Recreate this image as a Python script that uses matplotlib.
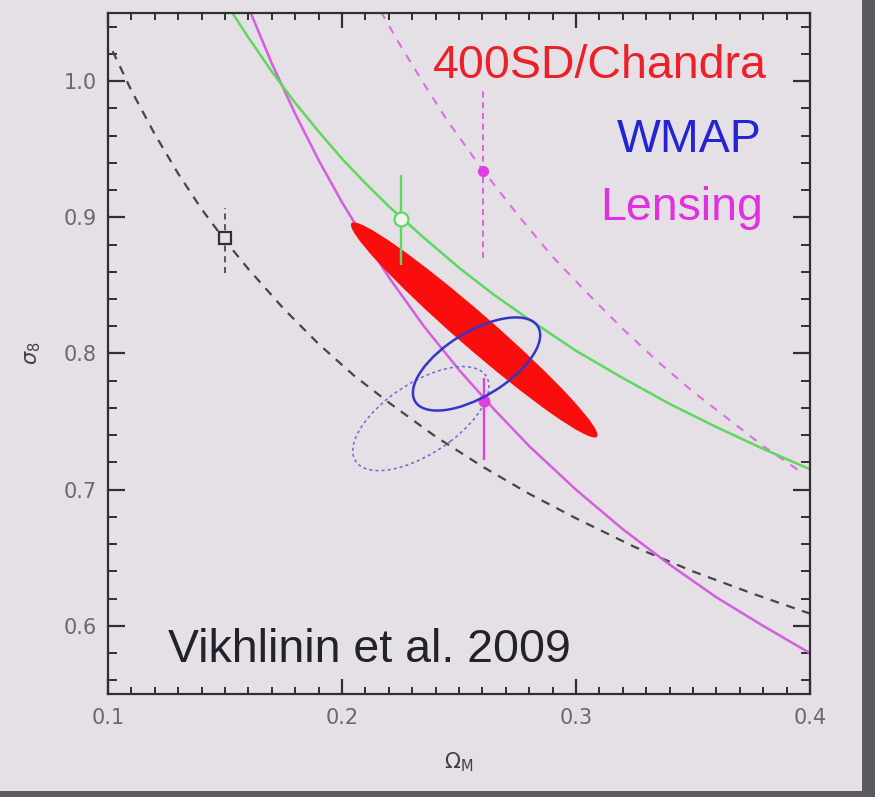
import matplotlib
matplotlib.use('Agg')
import matplotlib.pyplot as plt
import matplotlib.transforms as transforms
from matplotlib.patches import Ellipse, Rectangle
from matplotlib.ticker import MultipleLocator
import numpy as np

# degeneracy curves (Omega_M, sigma_8)
green_om = [0.152, 0.160, 0.170, 0.180, 0.190, 0.200, 0.210, 0.220, 0.235, 0.250,
            0.265, 0.280, 0.300, 0.320, 0.340, 0.360, 0.380, 0.400]
green_s8 = [1.053, 1.032, 1.007, 0.984, 0.963, 0.943, 0.925, 0.908, 0.885, 0.863,
            0.843, 0.825, 0.802, 0.782, 0.763, 0.746, 0.730, 0.715]

lens_om = [0.161, 0.170, 0.180, 0.190, 0.200, 0.210, 0.220, 0.235, 0.250, 0.265,
           0.280, 0.300, 0.320, 0.340, 0.360, 0.380, 0.400]
lens_s8 = [1.050, 1.013, 0.976, 0.942, 0.911, 0.883, 0.856, 0.820, 0.788, 0.759,
           0.732, 0.700, 0.671, 0.645, 0.621, 0.600, 0.580]

lens_hi_om = [0.2166, 0.225, 0.235, 0.245, 0.260, 0.275, 0.290, 0.305, 0.320, 0.335,
              0.350, 0.365, 0.380, 0.397]
lens_hi_s8 = [1.051, 1.026, 0.998, 0.971, 0.935, 0.902, 0.871, 0.844, 0.818, 0.794,
              0.772, 0.752, 0.732, 0.712]

black_om = [0.102, 0.110, 0.120, 0.130, 0.140, 0.150, 0.160, 0.175, 0.190, 0.205,
            0.220, 0.240, 0.260, 0.280, 0.300, 0.325, 0.350, 0.375, 0.400]
black_s8 = [1.022, 0.993, 0.961, 0.932, 0.906, 0.883, 0.862, 0.833, 0.807, 0.784,
            0.764, 0.739, 0.717, 0.697, 0.679, 0.658, 0.640, 0.624, 0.609]

# single measurements with error bars: x, y, lower err, upper err
square_pt = (0.150, 0.885, 0.026, 0.022)
green_pt = (0.2252, 0.899, 0.034, 0.032)
lens_hi_pt = (0.2603, 0.934, 0.064, 0.059)
lens_pt = (0.2607, 0.765, 0.043, 0.017)

# confidence contours: centre, half extents, correlation
chandra_center = (0.2565, 0.8173)
chandra_extent = (0.0527, 0.0790)
chandra_rho = -0.977

wmap_center = (0.2575, 0.7923)
wmap_extent = (0.0272, 0.0342)
wmap_rho = 0.62

wmap_old_center = (0.2337, 0.7522)
wmap_old_extent = (0.0291, 0.0382)
wmap_old_rho = 0.62

x_ticks = [0.1, 0.2, 0.3, 0.4]
y_ticks = [0.6, 0.7, 0.8, 0.9, 1.0]

bg = '#e5e0e5'


def add_contour(ax, center, extent, rho, **kw):
    ell = Ellipse((0, 0), width=2 * np.sqrt(1 + rho), height=2 * np.sqrt(1 - rho), **kw)
    tr = transforms.Affine2D().rotate_deg(45).scale(extent[0], extent[1]).translate(center[0], center[1])
    ell.set_transform(tr + ax.transData)
    ax.add_patch(ell)
    return ell


def add_point(ax, pt, color, marker, ms, dashed=False, mfc=None):
    x, y, lo, hi = pt
    line, caps, bars = ax.errorbar([x], [y], yerr=[[lo], [hi]], fmt=marker, color=color,
                                   ms=ms, mfc=mfc if mfc else color, mec=color, mew=1.6,
                                   elinewidth=1.7 if not dashed else 1.1, capsize=0, zorder=5)
    if dashed:
        bars[0].set_linestyle((0, (4, 3)))


fig = plt.figure(figsize=(8.75, 7.97), dpi=100, facecolor=bg)
ax = fig.add_axes([108 / 875, 103 / 797, 702 / 875, 681 / 797])
ax.set_facecolor(bg)

ax.plot(black_om, black_s8, color='#454545', lw=1.6, ls=(0, (4, 3.5)), zorder=2)
ax.plot(lens_om, lens_s8, color='#d45ee0', lw=1.8, zorder=2)
ax.plot(lens_hi_om, lens_hi_s8, color='#dc6ee0', lw=1.5, ls=(0, (4, 4)), zorder=2)
ax.plot(green_om, green_s8, color='#5fd85f', lw=1.8, zorder=2)

add_contour(ax, chandra_center, chandra_extent, chandra_rho, facecolor='#fa0d0d',
            edgecolor='none', zorder=4)
add_contour(ax, wmap_center, wmap_extent, wmap_rho, facecolor='none',
            edgecolor='#3535c8', lw=1.8, zorder=6)
add_contour(ax, wmap_old_center, wmap_old_extent, wmap_old_rho, facecolor='none',
            edgecolor='#6a6ad6', lw=1.1, ls=(0, (2, 2)), zorder=3)

add_point(ax, square_pt, '#303030', 's', 8, dashed=True, mfc=bg)
add_point(ax, green_pt, '#5fd85f', 'o', 10, mfc='#f2f2f2')
add_point(ax, lens_hi_pt, '#e040e0', 'o', 6.5, dashed=True)
add_point(ax, lens_pt, '#e040e0', 'o', 7)

ax.set_xlim(0.1, 0.4)
ax.set_ylim(0.55, 1.05)
ax.set_xticks(x_ticks)
ax.set_yticks(y_ticks)
ax.set_xticklabels(['%.1f' % v for v in x_ticks])
ax.set_yticklabels(['%.1f' % v for v in y_ticks])
ax.xaxis.set_minor_locator(MultipleLocator(0.01))
ax.yaxis.set_minor_locator(MultipleLocator(0.02))
ax.tick_params(which='both', direction='in', top=True, right=True, color='#303030',
               labelcolor='#6a6a6a', labelsize=15)
ax.tick_params(axis='x', which='major', length=11, width=1.6, pad=10)
ax.tick_params(axis='x', which='minor', length=5, width=1.4)
ax.tick_params(axis='y', which='major', length=12, width=1.6, pad=8)
ax.tick_params(axis='y', which='minor', length=6.5, width=1.4)
for s in ax.spines.values():
    s.set_color('#303030')
    s.set_linewidth(1.6)

ax.set_xlabel(r'$\Omega_{\rm M}$', fontsize=15, color='#404040', labelpad=16)
ax.set_ylabel(r'$\sigma_8$', fontsize=15, color='#404040', labelpad=15)

txt = dict(family='Liberation Sans', fontsize=33.5, transform=ax.transAxes, zorder=8)
ax.text(0.9387, 0.9046, '400SD/Chandra', color='#ec2028', ha='right', va='baseline', **txt)
ax.text(0.9316, 0.7959, 'WMAP', color='#2424d4', ha='right', va='baseline', **txt)
ax.text(0.933, 0.696, 'Lensing', color='#e030e0', ha='right', va='baseline', **txt)
ax.text(0.0855, 0.047, 'Vikhlinin et al. 2009', color='#22222c', ha='left', va='baseline', **txt)

# slide frame at right and bottom
fig.patches.append(Rectangle((862 / 875, 0), 13 / 875, 1, transform=fig.transFigure,
                             facecolor='#5c5860', edgecolor='none'))
fig.patches.append(Rectangle((0, 0), 1, 6 / 797, transform=fig.transFigure,
                             facecolor='#5c5860', edgecolor='none'))

fig.savefig('out.png', dpi=100, facecolor=bg)
